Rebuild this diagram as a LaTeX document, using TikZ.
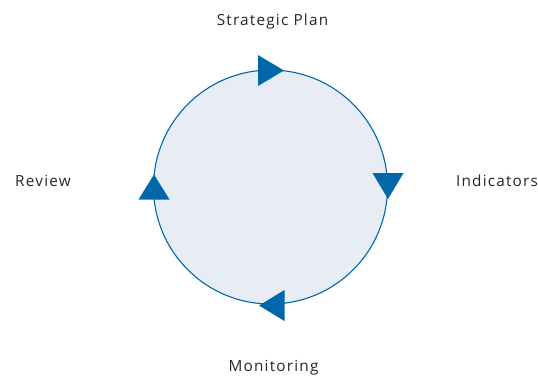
\documentclass[tikz,border=0pt]{standalone}
\usepackage{fontspec}
\newfontfamily\lblfont[LetterSpace=8]{Open Sans}
\usetikzlibrary{positioning}
\definecolor{cycleblue}{HTML}{0068AA}
\definecolor{cyclefill}{HTML}{E8ECF4}
\tikzset{
  stage/.style={font=\lblfont\fontsize{15.3bp}{18bp}\selectfont, text=black!85, inner sep=0pt, anchor=base},
  turn/.style={fill=cycleblue, draw=none}
}
\begin{document}
\begin{tikzpicture}[x=1bp,y=-1bp]
  \useasboundingbox (0,0) rectangle (538,376);
  % the cycle
  \node[circle, draw=cycleblue, fill=cyclefill, line width=1.1bp, minimum size=234bp, inner sep=0pt] (cyc) at (270.5,187) {};
  % direction markers on the cycle
  \fill[turn] (258,55) -- (258,86) -- (284,70.5) -- cycle;
  \fill[turn] (372.5,173) -- (403.5,173) -- (388,199) -- cycle;
  \fill[turn] (284.5,290) -- (284.5,321) -- (259,305.5) -- cycle;
  \fill[turn] (138.5,199.5) -- (169.5,199.5) -- (154,174.5) -- cycle;
  % stage labels
  \node[stage] (plan) at (272.5,25.5) {Strategic Plan};
  \node[stage] (ind) at (497,186) {Indicators};
  \node[stage] (mon) at (273.5,371) {Monitoring};
  \node[stage] (rev) at (43,186) {Review};
\end{tikzpicture}
\end{document}
